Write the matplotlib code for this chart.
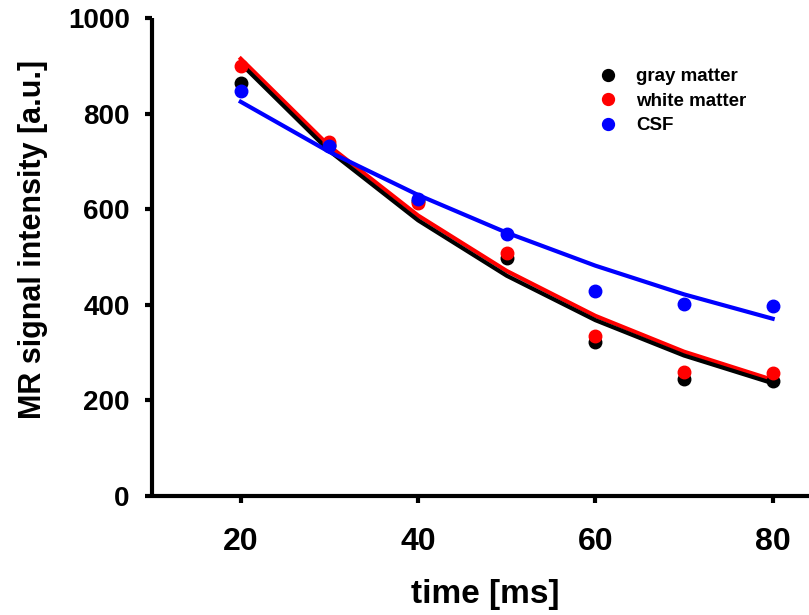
import matplotlib.pyplot as plt

plt.rcParams["font.family"] = ["Liberation Sans", "DejaVu Sans"]
plt.rcParams["font.weight"] = "bold"

# echo times [ms]
time_ms = [20, 30, 40, 50, 60, 70, 80]

# measured signal
gray_pts = [865, 735, 617, 498, 322, 245, 240]
white_pts = [900, 740, 613, 508, 335, 259, 258]
csf_pts = [848, 733, 621, 548, 429, 402, 398]

# fitted curves
gray_fit = [905, 722, 577, 461, 368, 294, 236]
white_fit = [915, 732, 587, 471, 377, 302, 243]
csf_fit = [825, 720, 630, 551, 482, 422, 371]

fig = plt.figure(figsize=(8.09, 6.15), dpi=100)
ax = fig.add_axes([0.188, 0.1935, 0.812, 0.777])

ax.plot(time_ms, white_fit, color="red", lw=3, zorder=2)
ax.plot(time_ms, gray_fit, color="black", lw=3, zorder=2)
ax.plot(time_ms, csf_fit, color="blue", lw=3, zorder=2)

ax.plot(time_ms, gray_pts, "o", color="black", ms=9, label="gray matter", zorder=3)
ax.plot(time_ms, white_pts, "o", color="red", ms=9, label="white matter", zorder=3)
ax.plot(time_ms, csf_pts, "o", color="blue", ms=9, label="CSF", zorder=3)

ax.set_xlim(10, 84.1)
ax.set_ylim(0, 1000)
ax.set_xticks([20, 40, 60, 80])
ax.set_yticks([0, 200, 400, 600, 800, 1000])

for side in ["top", "right"]:
    ax.spines[side].set_visible(False)
for side in ["left", "bottom"]:
    ax.spines[side].set_linewidth(3)
    ax.spines[side].set_capstyle("butt")

ax.tick_params(width=3, length=5)
ax.tick_params(axis="x", labelsize=23, pad=17)
ax.tick_params(axis="y", labelsize=20, pad=11)

ax.set_xlabel("time [ms]", fontsize=24, fontweight="bold", va="center")
ax.xaxis.set_label_coords(0.507, -0.207)
ax.set_ylabel("MR signal intensity [a.u.]", fontsize=22, fontweight="bold", va="center")
ax.yaxis.set_label_coords(-0.182, 0.536)

ax.legend(loc="upper left", bbox_to_anchor=(0.64, 0.931), frameon=False,
          prop={"size": 13.5, "weight": "bold"}, handletextpad=0.5,
          labelspacing=0.4, markerscale=0.95)

fig.savefig("out.png", dpi=100)
